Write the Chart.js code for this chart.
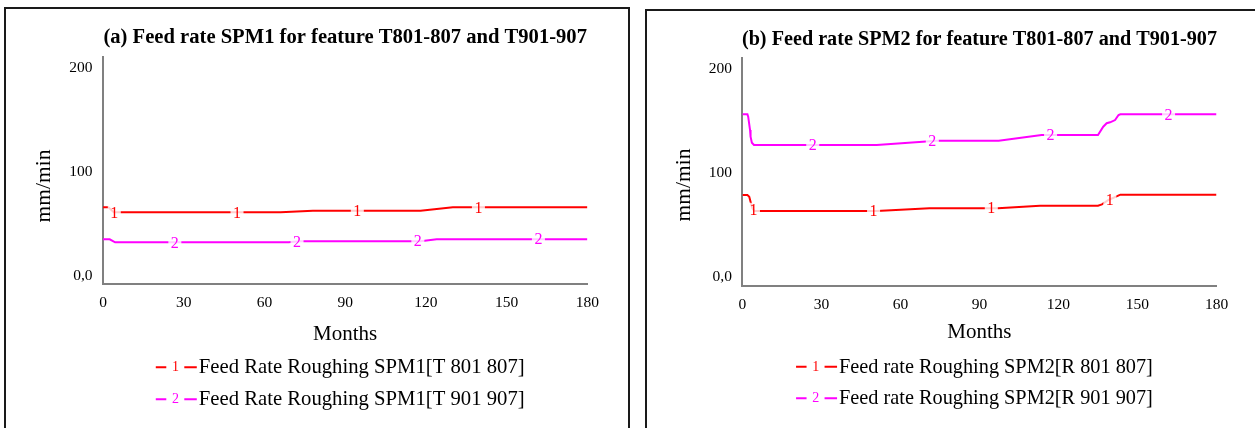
<!DOCTYPE html>
<html><head><meta charset="utf-8">
<script src="https://cdn.jsdelivr.net/npm/chart.js@4"></script>
<style>
html,body{margin:0;padding:0;background:#fff;width:1255px;height:428px;overflow:hidden;position:relative}
.panel{position:absolute;border:2px solid #1a1a1a}
canvas{position:absolute}
</style></head><body>
<div class="panel" style="left:4px;top:7px;width:622px;height:440px"></div>
<div class="panel" style="left:645px;top:9px;width:700px;height:440px"></div>
<canvas id="ca" width="622" height="419" style="left:6px;top:9px;width:622px;height:419px"></canvas>
<canvas id="cb" width="608" height="417" style="left:647px;top:11px;width:608px;height:417px"></canvas>
<script>
// ---- data ----
const xTicks = [0, 30, 60, 90, 120, 150, 180];
const yTicks = [0, 100, 200];
const yTickLabels = ['0,0', '100', '200'];

// Panel (a) SPM1
const monthsA1 = [0, 2, 4, 66, 78, 118, 130, 180];
const feedA1   = [66.3, 66.3, 61.5, 61.5, 63.1, 63.1, 66.3, 66.3];
const monthsA2 = [0, 2.5, 4.5, 69, 73, 118, 124, 180];
const feedA2   = [35.6, 35.6, 32.7, 32.7, 33.7, 33.7, 35.6, 35.6];

// Panel (b) SPM2
const monthsB1 = [0, 1.9, 2.6, 3.1, 3.8, 4.5, 51, 71, 97, 113, 135, 136.5, 139, 143.5, 180];
const feedB1   = [79, 79, 77.4, 72.6, 66.3, 63.7, 63.7, 66.3, 66.3, 68.7, 68.7, 70, 74.2, 79.3, 79.3];
const monthsB2 = [0, 1.9, 2.2, 2.9, 3.1, 3.6, 4.4, 51, 73.8, 97.3, 113.6, 135, 137, 138.3, 139.6, 141.5, 142.8, 143.5, 180];
const feedB2   = [156.5, 156.5, 154.2, 141.4, 135, 129.2, 127, 127, 131.2, 131.2, 136.6, 136.6, 144.6, 147.9, 148.8, 151, 155.8, 156.5, 156.5];

const titleA = '(a) Feed rate SPM1 for feature T801-807 and T901-907';
const titleB = '(b) Feed rate SPM2 for feature T801-807 and T901-907';
const legendA = ['Feed Rate Roughing SPM1[T 801 807]', 'Feed Rate Roughing SPM1[T 901 907]'];
const legendB = ['Feed rate Roughing SPM2[R 801 807]', 'Feed rate Roughing SPM2[R 901 907]'];
const seriesNumbers = ['1', '2'];
const yTitle = 'mm/min';
const xTitle = 'Months';

// ---- styles ----
const SERIF = '"Liberation Serif", "Times New Roman", serif';
const COLORS = ['#ff0000', '#ff00ff'];
const markerMonths = [[4.2, 49.8, 94.5, 139.5], [26.7, 72.1, 117, 161.8]];
Chart.defaults.font.family = SERIF;

function pts(xs, ys) { return xs.map((x, i) => ({x: x, y: ys[i]})); }

function decoPlugin(cfg) {
  return {
    id: 'deco',
    afterDatasetsDraw(chart) {
      const ctx = chart.ctx, xs = chart.scales.x;
      chart.data.datasets.forEach((ds, i) => {
        const p = chart.getDatasetMeta(i).data;
        markerMonths[i].forEach(m => {
          const px = xs.getPixelForValue(m);
          let py = p[0].y;
          for (let k = 0; k < p.length - 1; k++) {
            if (px >= p[k].x && px <= p[k + 1].x) {
              const t = (px - p[k].x) / ((p[k + 1].x - p[k].x) || 1);
              py = p[k].y + t * (p[k + 1].y - p[k].y);
              break;
            }
          }
          ctx.save();
          ctx.fillStyle = 'rgba(255,255,255,0.8)';
          ctx.fillRect(px - 6.5, py - 7, 13, 14);
          ctx.fillStyle = ds.borderColor;
          ctx.font = '16px ' + SERIF;
          ctx.textAlign = 'center';
          ctx.textBaseline = 'middle';
          ctx.fillText(seriesNumbers[i], px, py + 1);
          ctx.restore();
        });
      });
    },
    afterDraw(chart) {
      const ctx = chart.ctx, ca = chart.chartArea;
      const cx = (ca.left + ca.right) / 2;
      ctx.save();
      ctx.fillStyle = '#000';
      // title
      ctx.font = 'bold ' + cfg.titleSize + 'px ' + SERIF;
      ctx.textAlign = 'center';
      ctx.textBaseline = 'alphabetic';
      ctx.fillText(cfg.title, cx, cfg.titleBase);
      // x title
      ctx.font = '21px ' + SERIF;
      ctx.fillText(xTitle, cx, cfg.xTitleBase);
      // y title
      ctx.save();
      ctx.translate(cfg.yTitleX, cfg.yTitleY);
      ctx.rotate(-Math.PI / 2);
      ctx.font = '21.5px ' + SERIF;
      ctx.fillText(yTitle, 0, 0);
      ctx.restore();
      // legend
      ctx.font = cfg.legendSize + 'px ' + SERIF;
      const tw = Math.max(...cfg.legend.map(t => ctx.measureText(t).width));
      const block = 43 + tw;
      const textStart = cx - 5 - block / 2 + 43;
      cfg.legend.forEach((t, i) => {
        const ly = cfg.legendY[i];
        ctx.strokeStyle = COLORS[i];
        ctx.lineWidth = 2;
        ctx.beginPath();
        ctx.moveTo(textStart - 43, ly); ctx.lineTo(textStart - 32.5, ly);
        ctx.moveTo(textStart - 14.5, ly); ctx.lineTo(textStart - 2, ly);
        ctx.stroke();
        ctx.fillStyle = COLORS[i];
        ctx.font = '14px ' + SERIF;
        ctx.textAlign = 'center';
        ctx.textBaseline = 'middle';
        ctx.fillText(seriesNumbers[i], textStart - 23.3, ly + 0.5);
        ctx.fillStyle = '#000';
        ctx.font = cfg.legendSize + 'px ' + SERIF;
        ctx.textAlign = 'left';
        ctx.textBaseline = 'alphabetic';
        ctx.fillText(t, textStart, ly + 6);
      });
      ctx.restore();
    }
  };
}

function makeChart(cfg) {
  const el = document.getElementById(cfg.canvas);
  const W = el.width, H = el.height, XH = 40;
  const a = cfg.area;
  return new Chart(el, {
    type: 'line',
    data: {
      datasets: cfg.series.map((s, i) => ({
        label: cfg.legend[i],
        data: pts(s[0], s[1]),
        borderColor: COLORS[i],
        backgroundColor: COLORS[i],
        borderWidth: 2,
        pointRadius: 0,
        tension: 0,
        fill: false
      }))
    },
    options: {
      responsive: false,
      animation: false,
      devicePixelRatio: 1,
      layout: { padding: { left: 0, right: W - a.right, top: a.top, bottom: H - a.bottom - XH } },
      plugins: { legend: { display: false }, title: { display: false }, tooltip: { enabled: false } },
      scales: {
        x: {
          type: 'linear', min: 0, max: 180,
          afterBuildTicks: s => { s.ticks = xTicks.map(v => ({value: v})); },
          afterFit: s => { s.height = XH; },
          ticks: { color: '#000', font: { size: 15.5 }, padding: 9.6, maxRotation: 0, autoSkip: false },
          grid: { display: false, drawTicks: false },
          border: { display: true, color: '#808080', width: 2 }
        },
        y: {
          min: cfg.yMin, max: cfg.yMax,
          afterBuildTicks: s => { s.ticks = yTicks.map(v => ({value: v})); },
          afterFit: s => { s.width = a.left; },
          ticks: { color: '#000', font: { size: 15.5 }, padding: 10.5,
            callback: v => yTickLabels[yTicks.indexOf(v)] },
          grid: { display: false, drawTicks: false },
          border: { display: true, color: '#808080', width: 2 }
        }
      }
    },
    plugins: [decoPlugin(cfg)]
  });
}

makeChart({
  canvas: 'ca', title: titleA, legend: legendA,
  series: [[monthsA1, feedA1], [monthsA2, feedA2]],
  yMin: -7.7, yMax: 210.6,
  area: { left: 97, right: 581.4, top: 48, bottom: 275.4 },
  titleSize: 20.6, legendSize: 20.7,
  titleBase: 34.3, xTitleBase: 331, yTitleX: 44, yTitleY: 177,
  legendY: [358.3, 390.3]
});
makeChart({
  canvas: 'cb', title: titleB, legend: legendB,
  series: [[monthsB1, feedB1], [monthsB2, feedB2]],
  yMin: -8.4, yMax: 210.3,
  area: { left: 95.4, right: 569.5, top: 47.3, bottom: 275 },
  titleSize: 20.2, legendSize: 20.3,
  titleBase: 34, xTitleBase: 327.3, yTitleX: 43, yTitleY: 174,
  legendY: [355.7, 387.3]
});
</script>
</body></html>
